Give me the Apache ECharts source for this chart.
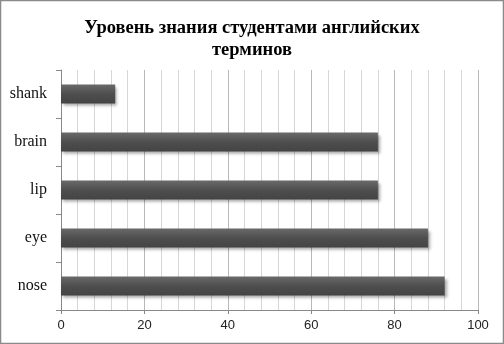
<!DOCTYPE html>
<html><head><meta charset="utf-8">
<script src="https://cdn.jsdelivr.net/npm/echarts@6/dist/echarts.min.js"></script>
<style>html,body{margin:0;padding:0;background:#fff}#c{width:504px;height:344px}</style>
</head><body><div id="c"></div>
<script>
var categories = ['nose', 'eye', 'lip', 'brain', 'shank'];
var values = [92, 88, 76, 76, 13];
var xTicks = [0, 20, 40, 60, 80, 100];
var titleText = 'Уровень знания студентами английских\nтерминов';

var chart = echarts.init(document.getElementById('c'), null, {renderer: 'canvas'});
chart.setOption({
  backgroundColor: '#fff',
  animation: false,
  title: {
    text: titleText, left: 'center', top: 12,
    textStyle: {fontFamily: 'Liberation Serif', fontWeight: 'bold', fontSize: 18.5, color: '#000', lineHeight: 22}
  },
  graphic: [{type: 'rect', shape: {x: 0.5, y: 0.5, width: 503, height: 343}, style: {fill: 'none', stroke: '#8a8a8a', lineWidth: 1.5}, silent: true}],
  grid: {left: 61, right: 26, top: 70, bottom: 34},
  xAxis: {
    type: 'value', min: xTicks[0], max: xTicks[xTicks.length - 1], interval: 20,
    axisLine: {show: true, lineStyle: {color: '#888'}},
    axisTick: {show: true, length: 4, lineStyle: {color: '#888'}},
    axisLabel: {fontFamily: 'Liberation Sans', fontSize: 13, color: '#222', margin: 9},
    splitLine: {show: true, lineStyle: {color: '#b8b8b8'}},
    minorTick: {show: false, splitNumber: 5},
    minorSplitLine: {show: true, lineStyle: {color: '#d6d6d6'}}
  },
  yAxis: {
    type: 'category', data: categories,
    axisLine: {show: true, lineStyle: {color: '#888'}},
    axisTick: {show: true, length: 5, lineStyle: {color: '#888'}},
    axisLabel: {fontFamily: 'Liberation Serif', fontSize: 16, color: '#111', margin: 14}
  },
  series: [{
    type: 'bar', data: values, barWidth: 19,
    itemStyle: {
      color: new echarts.graphic.LinearGradient(0, 0, 0, 1, [
        {offset: 0, color: '#6a6a6a'}, {offset: 0.5, color: '#4e4e4e'}, {offset: 1, color: '#444'}
      ]),
      shadowBlur: 3, shadowOffsetX: 2, shadowOffsetY: 2, shadowColor: 'rgba(0,0,0,0.35)'
    }
  }]
});
</script></body></html>
